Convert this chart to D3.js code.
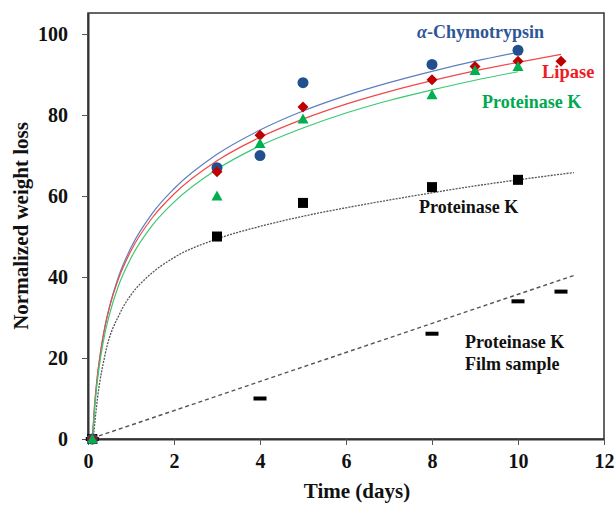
<!DOCTYPE html>
<html>
<head>
  <meta charset="utf-8">
  <script src="https://d3js.org/d3.v7.min.js"></script>
  <style>
    body { margin: 0; background: #fff; }
    text { font-family: "Liberation Serif", "Times New Roman", serif; font-weight: bold; }
  </style>
</head>
<body>
<div id="chart"></div>
<script>
// measured points (days, normalized weight loss)
var chymoDays = [0.1, 3, 4, 5, 8, 10];
var chymoLoss = [0, 67, 70, 88, 92.5, 96];
var lipaseDays = [0.1, 3, 4, 5, 8, 9, 10, 11];
var lipaseLoss = [0, 66, 75, 82, 88.7, 92, 93.3, 93.3];
var protKDays = [0.1, 3, 4, 5, 8, 9, 10];
var protKLoss = [0, 60, 73, 79, 85, 91, 92];
var pkBlackDays = [0.1, 3, 5, 8, 10];
var pkBlackLoss = [0, 50, 58.3, 62.2, 64];
var filmDays = [0.1, 4, 8, 10, 11];
var filmLoss = [0, 10, 26, 34, 36.4];

// trend lines
var chymoFitDays = [0.105, 0.15, 0.2, 0.3, 0.4, 0.5, 0.7, 1, 1.5, 2, 3, 4, 5, 6, 7, 8, 9, 10];
var chymoFitLoss = [0, 7.5, 13.5, 22.0, 28.1, 32.7, 39.8, 47.3, 55.8, 61.8, 70.3, 76.3, 81.0, 84.8, 88.0, 90.8, 93.3, 95.5];
var lipaseFitDays = [0.1, 0.15, 0.2, 0.3, 0.4, 0.5, 0.7, 1, 1.5, 2, 3, 4, 5, 6, 7, 8, 9, 10, 11];
var lipaseFitLoss = [0, 8.1, 13.9, 22.1, 28.0, 32.5, 39.3, 46.5, 54.7, 60.5, 68.7, 74.5, 79.0, 82.7, 85.8, 88.5, 90.9, 93.0, 95.0];
var protKFitDays = [0.107, 0.15, 0.2, 0.3, 0.4, 0.5, 0.7, 1, 1.5, 2, 3, 4, 5, 6, 7, 8, 9, 10];
var protKFitLoss = [0, 6.8, 12.6, 20.6, 26.4, 30.8, 37.6, 44.7, 52.8, 58.5, 66.6, 72.4, 76.8, 80.5, 83.6, 86.2, 88.6, 90.7];
var pkBlackFitDays = [0.12, 0.22, 0.4, 0.74, 1, 1.36, 2, 3, 4, 5, 6, 7, 8, 9, 10, 11.3];
var pkBlackFitLoss = [0, 10, 21, 31, 35.6, 39.8, 44.8, 49.4, 52.5, 55.0, 57.1, 59.0, 60.8, 62.5, 64.0, 65.8];
var filmFitDays = [0.1, 11.33];
var filmFitLoss = [0.2, 40.5];

var xTicks = [0, 2, 4, 6, 8, 10, 12];
var yTicks = [0, 20, 40, 60, 80, 100];

var W = 615, H = 505;
var plotL = 88, plotR = 604, plotT = 13, plotB = 439;

var svg = d3.select("#chart").append("svg")
  .attr("width", W).attr("height", H);
svg.append("rect").attr("width", W).attr("height", H).attr("fill", "#fff");

var x = d3.scaleLinear().domain([0, 12]).range([plotL, plotR]);
var y = d3.scaleLinear().domain([0, 105.2]).range([plotB, plotT]);

// frame
svg.append("rect")
  .attr("x", plotL).attr("y", plotT)
  .attr("width", plotR - plotL).attr("height", plotB - plotT)
  .attr("fill", "none").attr("stroke", "#333").attr("stroke-width", 1.5);

// axes
var xAxis = svg.append("g")
  .attr("transform", "translate(0," + plotB + ")")
  .call(d3.axisBottom(x).tickValues(xTicks).tickSize(6).tickPadding(9).tickSizeOuter(0));
var yAxis = svg.append("g")
  .attr("transform", "translate(" + plotL + ",0)")
  .call(d3.axisLeft(y).tickValues(yTicks).tickSize(6).tickPadding(14).tickSizeOuter(0));
[xAxis, yAxis].forEach(function(g) {
  g.select(".domain").attr("stroke", "#333").attr("stroke-width", 2);
  g.selectAll(".tick line").attr("stroke", "#555");
  g.selectAll("text")
    .attr("fill", "#111")
    .style("font-size", "20px")
    .style("font-family", "'Liberation Serif', serif")
    .style("font-weight", "bold");
});

// axis titles
svg.append("text")
  .attr("x", 357).attr("y", 498)
  .attr("text-anchor", "middle")
  .attr("fill", "#111")
  .style("font-size", "21px")
  .text("Time (days)");
svg.append("text")
  .attr("transform", "translate(28,226) rotate(-90)")
  .attr("text-anchor", "middle")
  .attr("fill", "#111")
  .style("font-size", "21px")
  .text("Normalized weight loss");

function pairs(xs, ys) {
  return xs.map(function(d, i) { return [d, ys[i]]; });
}

var line = d3.line()
  .x(function(d) { return x(d[0]); })
  .y(function(d) { return y(d[1]); })
  .curve(d3.curveMonotoneX);

// trend lines
var fits = [
  {pts: pairs(filmFitDays, filmFitLoss), color: "#555", width: 1.4, dash: "4,3"},
  {pts: pairs(pkBlackFitDays, pkBlackFitLoss), color: "#555", width: 1.3, dash: "2,1.2"},
  {pts: pairs(chymoFitDays, chymoFitLoss), color: "#5b7fc0", width: 1.2, dash: null},
  {pts: pairs(lipaseFitDays, lipaseFitLoss), color: "#f04848", width: 1.2, dash: null},
  {pts: pairs(protKFitDays, protKFitLoss), color: "#3cc872", width: 1.2, dash: null}
];
fits.forEach(function(f) {
  svg.append("path")
    .datum(f.pts)
    .attr("d", line)
    .attr("fill", "none")
    .attr("stroke", f.color)
    .attr("stroke-width", f.width)
    .attr("stroke-dasharray", f.dash);
});

// markers
svg.selectAll(".film")
  .data(pairs(filmDays, filmLoss))
  .enter().append("rect")
  .attr("x", function(d) { return x(d[0]) - 6.5; })
  .attr("y", function(d) { return y(d[1]) - 2; })
  .attr("width", 13).attr("height", 4)
  .attr("fill", "#000");

svg.selectAll(".pkb")
  .data(pairs(pkBlackDays, pkBlackLoss))
  .enter().append("rect")
  .attr("x", function(d) { return x(d[0]) - 5; })
  .attr("y", function(d) { return y(d[1]) - 5; })
  .attr("width", 10).attr("height", 10)
  .attr("fill", "#000");

svg.selectAll(".chymo")
  .data(pairs(chymoDays, chymoLoss))
  .enter().append("circle")
  .attr("cx", function(d) { return x(d[0]); })
  .attr("cy", function(d) { return y(d[1]); })
  .attr("r", 5.5)
  .attr("fill", "#22508f");

svg.selectAll(".lipase")
  .data(pairs(lipaseDays, lipaseLoss))
  .enter().append("path")
  .attr("transform", function(d) { return "translate(" + x(d[0]) + "," + y(d[1]) + ")"; })
  .attr("d", "M0,-5.5L5.5,0L0,5.5L-5.5,0Z")
  .attr("fill", "#c00000");

svg.selectAll(".protk")
  .data(pairs(protKDays, protKLoss))
  .enter().append("path")
  .attr("transform", function(d) { return "translate(" + x(d[0]) + "," + y(d[1]) + ")"; })
  .attr("d", "M0,-5.5L5.5,4.5L-5.5,4.5Z")
  .attr("fill", "#00b050");

// series labels
var labels = [
  {x: 417, y: 38, size: 18, color: "#2f5597", text: "Chymotrypsin", alpha: true},
  {x: 542, y: 78, size: 18.5, color: "#ee1c25", text: "Lipase"},
  {x: 482, y: 108, size: 18, color: "#00a850", text: "Proteinase K"},
  {x: 419, y: 213, size: 18, color: "#111", text: "Proteinase K"},
  {x: 465, y: 348, size: 18, color: "#111", text: "Proteinase K"},
  {x: 465, y: 370, size: 18, color: "#111", text: "Film sample"}
];
labels.forEach(function(l) {
  var t = svg.append("text")
    .attr("x", l.x).attr("y", l.y)
    .attr("fill", l.color)
    .style("font-size", l.size + "px");
  if (l.alpha) {
    t.append("tspan").style("font-style", "italic").text("α");
    t.append("tspan").text("-" + l.text);
  } else {
    t.text(l.text);
  }
});
</script>
</body>
</html>
